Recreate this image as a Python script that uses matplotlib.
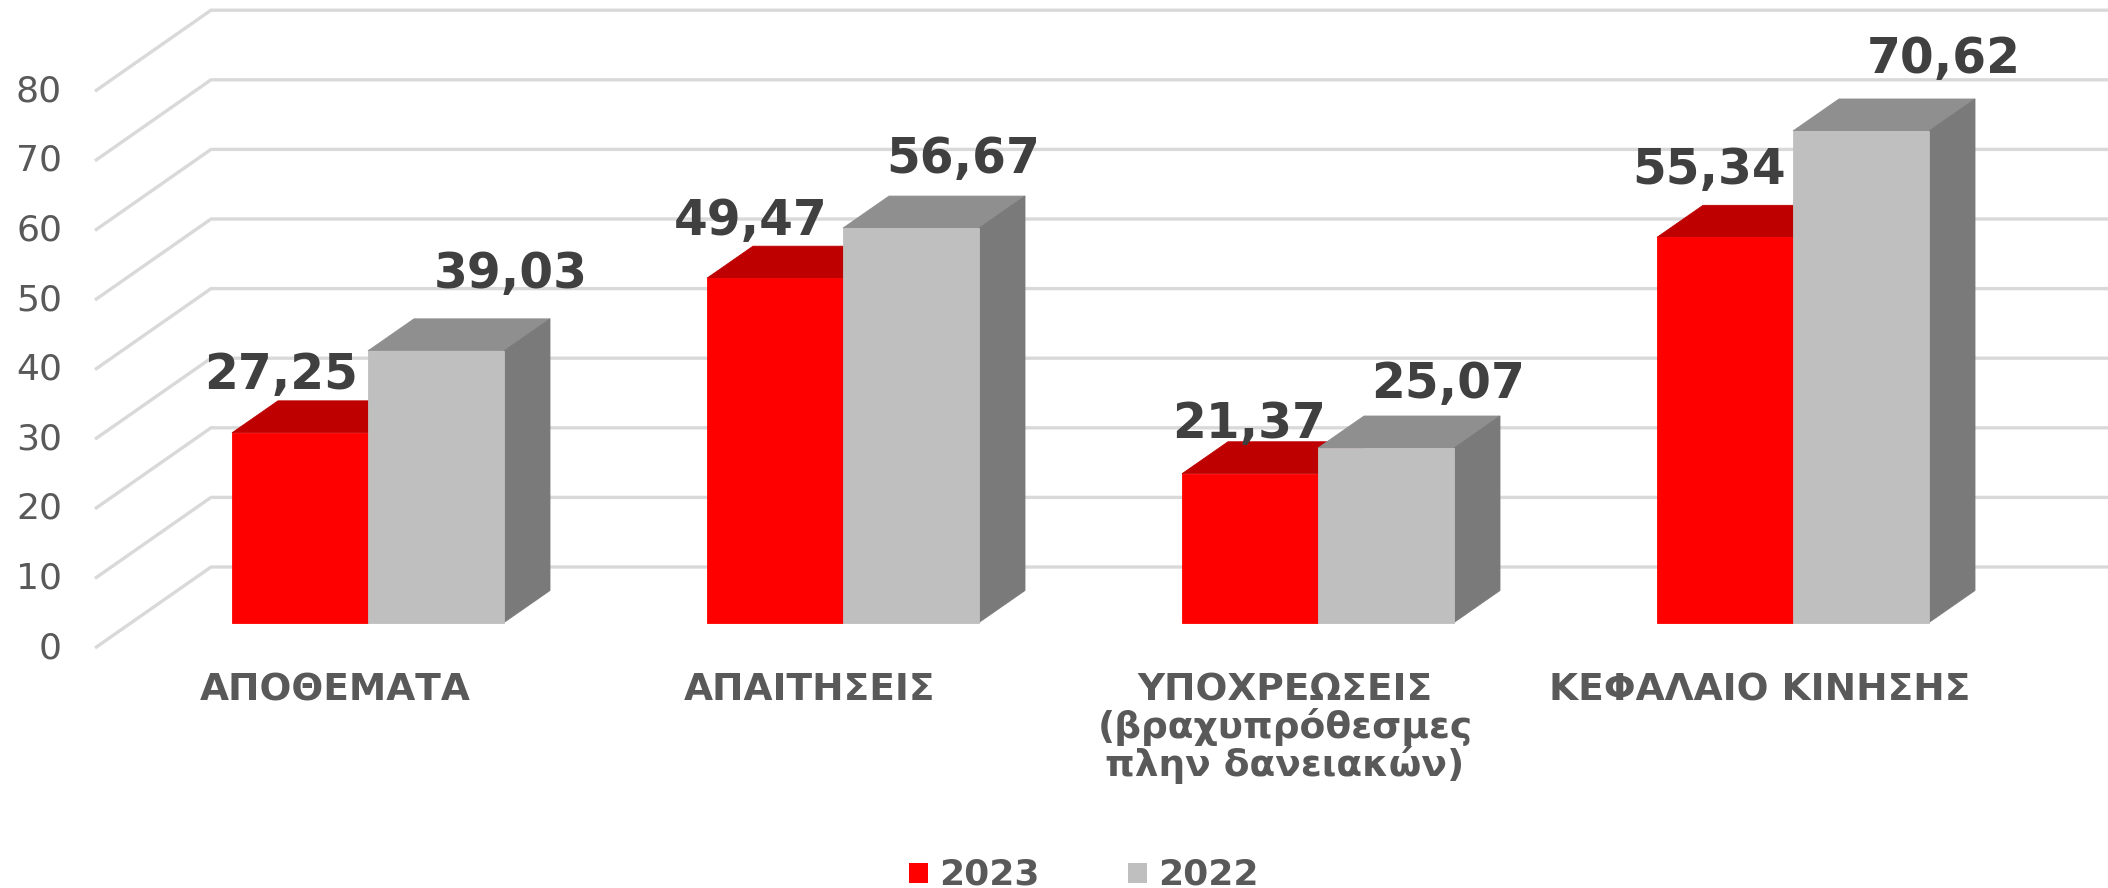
"""
Pseudo-3D clustered bars, 2023 vs 2022.
"""

import matplotlib
matplotlib.use('Agg')
import matplotlib.pyplot as plt
from matplotlib.patches import Polygon

categories = ['ΑΠΟΘΕΜΑΤΑ', 'ΑΠΑΙΤΗΣΕΙΣ',
              'ΥΠΟΧΡΕΩΣΕΙΣ\n(βραχυπρόθεσμες\nπλην δανειακών)',
              'ΚΕΦΑΛΑΙΟ ΚΙΝΗΣΗΣ']
values_2023 = [27.25, 49.47, 21.37, 55.34]
values_2022 = [39.03, 56.67, 25.07, 70.62]
labels_2023 = ['27,25', '49,47', '21,37', '55,34']
labels_2022 = ['39,03', '56,67', '25,07', '70,62']
y_ticks = [0, 10, 20, 30, 40, 50, 60, 70, 80]

W, H = 2108, 888
PX_X = 475.0   # pixels per category
PX_Y = 6.96    # pixels per value unit
BASE_X, BASE_Y = 368.0, 622.5


def xpos(px):
    return (px - BASE_X) / PX_X


def ypos(py):
    return (BASE_Y - py) / PX_Y


fig = plt.figure(figsize=(W / 100, H / 100), dpi=100)
ax = fig.add_axes([0, 0, 1, 1])
ax.set_xlim(xpos(0), xpos(W))
ax.set_ylim(ypos(H), ypos(0))
ax.axis('off')

bar_w = 136 / PX_X
depth_x, depth_y = 46 / PX_X, 32 / PX_Y      # bar depth
front_y = -25.5 / PX_Y    # wall front edge, relative to bar base
back_y = 55.5 / PX_Y      # wall back edge, relative to bar base

# Label offsets from the category centre / bar top, in pixels
offset_x_2023 = [-87, -92, -69, -84]
offset_x_2022 = [143, 120, 130, 151]
offset_y_2023 = [44, 43, 36, 53]
offset_y_2022 = [63, 55, 50, 58]

# Gridlines on the floor/wall
for v in y_ticks:
    ax.plot([xpos(95), xpos(211), xpos(W)],
            [v + front_y, v + back_y, v + back_y],
            color='#D9D9D9', lw=2.4, solid_capstyle='butt', zorder=1)
    ax.text(xpos(62), v + front_y, str(v), ha='right', va='center',
            fontsize=26, color='#595959', zorder=5)


def draw_bar(x_left, value, face, top, side):
    x_right = x_left + bar_w
    ax.add_patch(Polygon([(x_left, value), (x_left + depth_x, value + depth_y),
                          (x_right + depth_x, value + depth_y), (x_right, value)],
                         closed=True, fc=top, ec=top, lw=0.6))
    ax.add_patch(Polygon([(x_right, 0), (x_right + depth_x, depth_y),
                          (x_right + depth_x, value + depth_y), (x_right, value)],
                         closed=True, fc=side, ec=side, lw=0.6))
    ax.bar(x_left, value, width=bar_w, align='edge', color=face, ec=face, lw=0.6)


for i, cat in enumerate(categories):
    draw_bar(i - bar_w, values_2023[i], '#FF0000', '#BF0000', '#BF0000')
    draw_bar(i, values_2022[i], '#BFBFBF', '#8F8F8F', '#7A7A7A')

    ax.text(i + offset_x_2023[i] / PX_X, values_2023[i] + offset_y_2023[i] / PX_Y,
            labels_2023[i], ha='center', va='baseline',
            fontsize=35, fontweight='bold', color='#404040', zorder=6)
    ax.text(i + offset_x_2022[i] / PX_X, values_2022[i] + offset_y_2022[i] / PX_Y,
            labels_2022[i], ha='center', va='baseline',
            fontsize=35, fontweight='bold', color='#404040', zorder=6)

    ax.text(i - 33 / PX_X, ypos(672), cat, ha='center', va='top',
            fontsize=27, fontweight='bold', color='#595959', linespacing=1.0)

# Legend
for name, color, px in (('2023', '#FF0000', 909), ('2022', '#BFBFBF', 1128)):
    ax.bar(xpos(px), 20 / PX_Y, bottom=ypos(883), width=19 / PX_X,
           align='edge', color=color, lw=0)
    ax.text(xpos(px + 30), ypos(884), name, ha='left', va='baseline',
            fontsize=26, fontweight='bold', color='#595959')

fig.savefig('out.png', dpi=100)
